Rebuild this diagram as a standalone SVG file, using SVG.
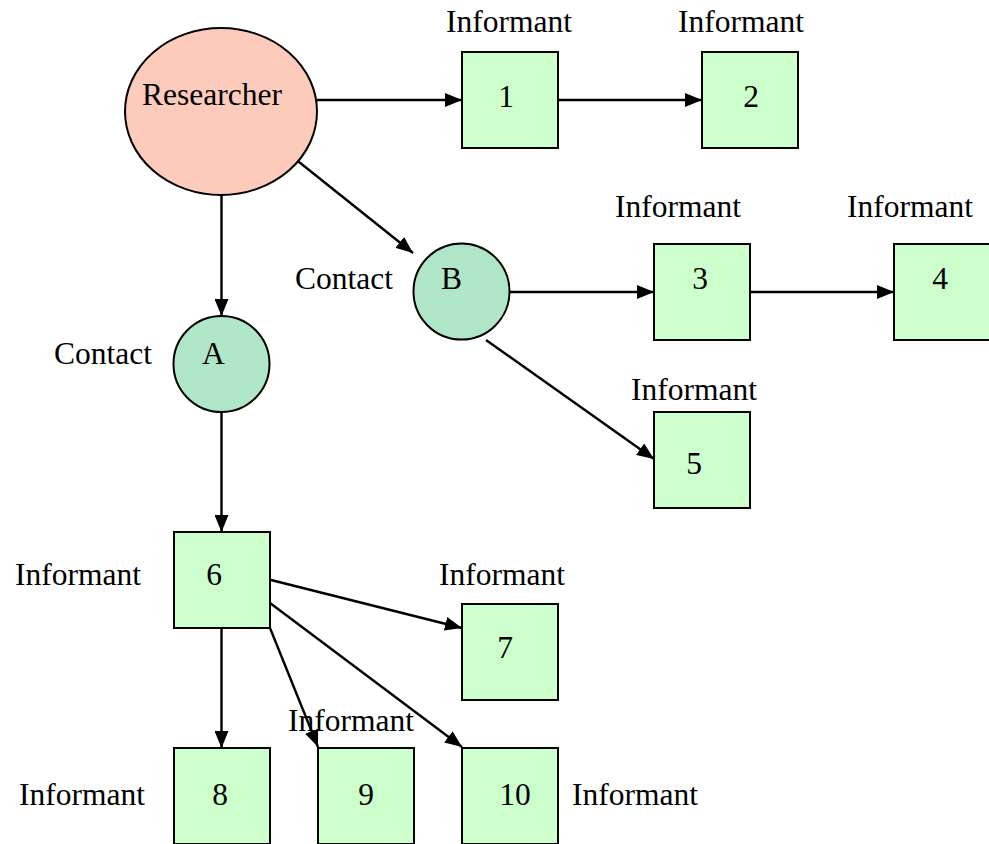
<svg xmlns="http://www.w3.org/2000/svg" width="989" height="844" viewBox="0 0 989 844">
<defs>
<marker id="ah" markerUnits="userSpaceOnUse" markerWidth="17" markerHeight="14" refX="17" refY="7" orient="auto">
<path d="M0,0 L17,7 L0,14 Z" fill="#000"/>
</marker>
<style>
text{font-family:"Liberation Serif","Times New Roman",serif;font-size:31.5px;fill:#000}
.box{fill:#ccffcc;stroke:#000;stroke-width:2}
.contact{fill:#b0e6c8;stroke:#000;stroke-width:2}
.res{fill:#fccbbb;stroke:#000;stroke-width:2}
.c{text-anchor:middle}
#connectors line{stroke:#000;stroke-width:2.4;marker-end:url(#ah)}
</style>
</defs>
<rect width="989" height="844" fill="#fff"/>
<g id="connectors">
<line x1="317" y1="100" x2="462" y2="100"/>
<line x1="558" y1="100" x2="702" y2="100"/>
<line x1="294" y1="158" x2="413" y2="253"/>
<line x1="221.5" y1="195" x2="221.5" y2="316"/>
<line x1="510" y1="292" x2="654" y2="292"/>
<line x1="750" y1="292" x2="894" y2="292"/>
<line x1="486" y1="340" x2="654" y2="459"/>
<line x1="221.5" y1="412" x2="221.5" y2="532"/>
<line x1="271" y1="580" x2="462" y2="628"/>
<line x1="221.5" y1="628" x2="221.5" y2="748"/>
<line x1="270" y1="628" x2="318" y2="747"/>
<line x1="270" y1="603" x2="462" y2="747"/>
</g>
<g id="researcher">
<ellipse class="res" cx="221" cy="111.5" rx="96" ry="83.5"/>
<text x="142" y="105">Researcher</text>
</g>
<g id="contactA">
<circle class="contact" cx="221.5" cy="364" r="48"/>
<text x="54" y="364">Contact</text>
<text x="202" y="364">A</text>
</g>
<g id="contactB">
<circle class="contact" cx="461.5" cy="291.5" r="48"/>
<text x="295" y="289">Contact</text>
<text x="441" y="289">B</text>
</g>
<g id="informant1">
<rect class="box" x="462" y="52" width="96" height="96"/>
<text x="446" y="32">Informant</text>
<text class="c" x="506" y="107">1</text>
</g>
<g id="informant2">
<rect class="box" x="702" y="52" width="96" height="96"/>
<text x="678" y="32">Informant</text>
<text class="c" x="751" y="107">2</text>
</g>
<g id="informant3">
<rect class="box" x="654" y="244" width="96" height="96"/>
<text x="615" y="217">Informant</text>
<text class="c" x="700" y="289">3</text>
</g>
<g id="informant4">
<rect class="box" x="894" y="244" width="96" height="96"/>
<text x="847" y="217">Informant</text>
<text class="c" x="940" y="289">4</text>
</g>
<g id="informant5">
<rect class="box" x="654" y="412" width="96" height="96"/>
<text x="631" y="400">Informant</text>
<text class="c" x="694" y="474">5</text>
</g>
<g id="informant6">
<rect class="box" x="174" y="532" width="96" height="96"/>
<text x="15" y="585">Informant</text>
<text class="c" x="214" y="585">6</text>
</g>
<g id="informant7">
<rect class="box" x="462" y="604" width="96" height="96"/>
<text x="439" y="585">Informant</text>
<text class="c" x="505" y="658">7</text>
</g>
<g id="informant8">
<rect class="box" x="174" y="748" width="96" height="96"/>
<text x="19" y="805">Informant</text>
<text class="c" x="220" y="805">8</text>
</g>
<g id="informant9">
<rect class="box" x="318" y="748" width="96" height="96"/>
<text x="288" y="731">Informant</text>
<text class="c" x="366" y="805">9</text>
</g>
<g id="informant10">
<rect class="box" x="462" y="748" width="96" height="96"/>
<text x="572" y="805">Informant</text>
<text class="c" x="515" y="805">10</text>
</g>
</svg>
